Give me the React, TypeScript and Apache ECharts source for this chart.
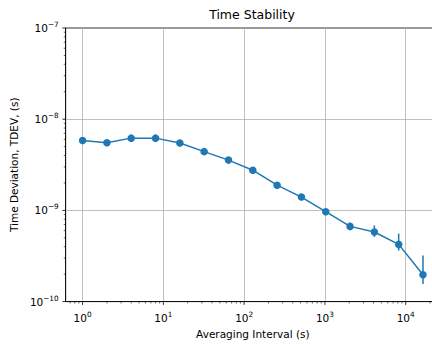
import React, { useEffect, useRef } from "react";
import * as echarts from "echarts";

// Averaging intervals (s)
const tau = [1, 2, 4, 8, 16, 32, 64, 128, 256, 512, 1024, 2048, 4096, 8192, 16384];
// Time deviation TDEV (s)
const tdev = [
  5.85e-9, 5.52e-9, 6.2e-9, 6.2e-9, 5.48e-9, 4.41e-9, 3.56e-9, 2.76e-9, 1.89e-9,
  1.4e-9, 9.68e-10, 6.68e-10, 5.8e-10, 4.24e-10, 1.97e-10,
];
// Error bar bounds (null where hidden behind marker)
const errLow = [null, null, null, null, null, null, null, null, null, null, null, 6.1e-10, 5.13e-10, 3.62e-10, 1.56e-10];
const errHigh = [null, null, null, null, null, null, null, null, null, null, null, 7.3e-10, 6.85e-10, 5.56e-10, 3.2e-10];

const xTickValues = [1, 10, 100, 1000, 10000];
const xTickExps = ["0", "1", "2", "3", "4"];
const yTickValues = [1e-10, 1e-9, 1e-8, 1e-7];
const yTickExps = ["−10", "−9", "−8", "−7"];

const X_MIN = Math.pow(10, -0.2096);
const X_MAX = Math.pow(10, 4.425);
const Y_MIN = 1e-10;
const Y_MAX = 1e-7;

const FONT = "DejaVu Sans";
const BLUE = "#1f77b4";
const FS = 10.5;

function minorValues(lo: number, hi: number, min: number, max: number) {
  const out: number[] = [];
  for (let e = lo; e <= hi; e++) {
    for (let m = 2; m <= 9; m++) {
      const v = m * Math.pow(10, e);
      if (v > min && v < max) out.push(v);
    }
  }
  return out;
}

export default function App() {
  const ref = useRef<HTMLDivElement>(null);
  useEffect(() => {
    if (!ref.current) return;
    const chart = echarts.init(ref.current, null, { renderer: "svg" });

    const xTicks: any[] = [];
    xTickValues.forEach((v) => xTicks.push([v, Y_MIN, 1]));
    minorValues(-1, 4, X_MIN, X_MAX).forEach((v) => xTicks.push([v, Y_MIN, 0]));
    const yTicks: any[] = [];
    yTickValues.forEach((v) => yTicks.push([X_MIN, v, 1]));
    minorValues(-10, -8, Y_MIN, Y_MAX).forEach((v) => yTicks.push([X_MIN, v, 0]));

    const errData: any[] = [];
    tau.forEach((t, i) => {
      if (errLow[i] != null && errHigh[i] != null) errData.push([t, errLow[i], errHigh[i]]);
    });

    const richLabel = {
      b: { fontSize: FS, fontFamily: FONT, color: "#000", lineHeight: 14 },
      s: { fontSize: 7.3, fontFamily: FONT, color: "#000", verticalAlign: "top", lineHeight: 9 },
    };

    const expFor = (v: number, vals: number[], exps: string[]) => {
      const e = Math.round(Math.log10(v));
      const idx = vals.findIndex((t) => Math.round(Math.log10(t)) === e);
      return idx >= 0 ? `{b|10}{s|${exps[idx]}}` : "";
    };

    chart.setOption({
      animation: false,
      backgroundColor: "#fff",
      title: {
        text: "Time Stability",
        left: 252,
        top: 8,
        padding: 0,
        textAlign: "center",
        textStyle: { fontFamily: FONT, fontSize: 12.5, fontWeight: "normal", color: "#000" },
      },
      grid: {
        left: 64,
        right: 0,
        top: 28,
        bottom: 37,
        show: true,
        borderColor: "#000",
        borderWidth: 0.8,
        backgroundColor: "transparent",
      },
      xAxis: {
        type: "log",
        logBase: 10,
        min: X_MIN,
        max: X_MAX,
        name: "Averaging Interval (s)",
        nameLocation: "middle",
        nameGap: 25,
        nameTextStyle: { fontFamily: FONT, fontSize: FS, color: "#000" },
        axisLine: { show: true, lineStyle: { color: "#000", width: 0.8 } },
        axisTick: { show: false },
        axisLabel: {
          margin: 9,
          showMinLabel: false,
          showMaxLabel: false,
          formatter: (v: number) => expFor(v, xTickValues, xTickExps),
          rich: richLabel,
        },
        splitLine: {
          show: true,
          showMinLine: false,
          showMaxLine: false,
          lineStyle: { color: "#b0b0b0", width: 0.8 },
        },
      },
      yAxis: {
        type: "log",
        logBase: 10,
        min: Y_MIN,
        max: Y_MAX,
        name: "Time Deviation, TDEV, (s)",
        nameLocation: "middle",
        nameGap: 42,
        nameTextStyle: { fontFamily: FONT, fontSize: FS, color: "#000" },
        axisLine: { show: true, lineStyle: { color: "#000", width: 0.8 } },
        axisTick: { show: false },
        axisLabel: {
          margin: 7,
          formatter: (v: number) => expFor(v, yTickValues, yTickExps),
          rich: richLabel,
        },
        splitLine: {
          show: true,
          showMinLine: false,
          showMaxLine: false,
          lineStyle: { color: "#b0b0b0", width: 0.8 },
        },
      },
      series: [
        {
          type: "custom",
          clip: false,
          silent: true,
          data: xTicks,
          renderItem: (params: any, api: any) => {
            const p = api.coord([api.value(0), api.value(1)]);
            const len = api.value(2) === 1 ? 3.3 : 1.9;
            return {
              type: "line",
              shape: { x1: p[0], y1: p[1], x2: p[0], y2: p[1] + len },
              style: { stroke: "#000", lineWidth: api.value(2) === 1 ? 0.8 : 0.6 },
            };
          },
        },
        {
          type: "custom",
          clip: false,
          silent: true,
          data: yTicks,
          renderItem: (params: any, api: any) => {
            const p = api.coord([api.value(0), api.value(1)]);
            const len = api.value(2) === 1 ? 3.3 : 1.9;
            return {
              type: "line",
              shape: { x1: p[0] - len, y1: p[1], x2: p[0], y2: p[1] },
              style: { stroke: "#000", lineWidth: api.value(2) === 1 ? 0.8 : 0.6 },
            };
          },
        },
        {
          type: "line",
          data: tau.map((t, i) => [t, tdev[i]]),
          symbol: "circle",
          symbolSize: 7.5,
          lineStyle: { color: BLUE, width: 1.5 },
          itemStyle: { color: BLUE },
          z: 3,
        },
        {
          type: "custom",
          clip: false,
          silent: true,
          data: errData,
          encode: { x: 0, y: [1, 2] },
          z: 4,
          renderItem: (params: any, api: any) => {
            const a = api.coord([api.value(0), api.value(1)]);
            const b = api.coord([api.value(0), api.value(2)]);
            return {
              type: "line",
              shape: { x1: a[0], y1: a[1], x2: b[0], y2: b[1] },
              style: { stroke: BLUE, lineWidth: 1.5 },
            };
          },
        },
      ],
    });
    return () => chart.dispose();
  }, []);
  return (
    <div style={{ position: "fixed", left: 0, top: 0, width: 432, height: 344, overflow: "hidden" }}>
      <div ref={ref} style={{ width: 440, height: 344 }} />
    </div>
  );
}
